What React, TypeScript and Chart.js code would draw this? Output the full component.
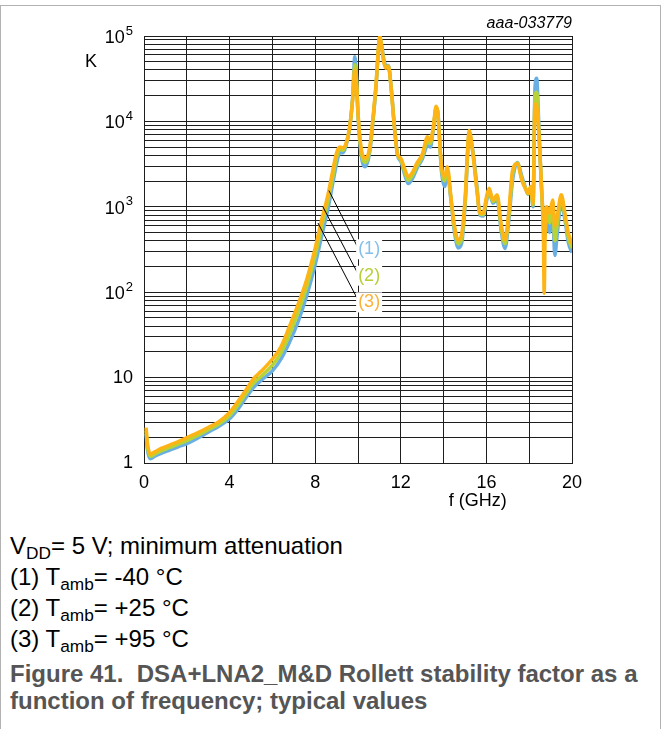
import React, { useEffect, useRef } from 'react';
import { Chart, registerables } from 'chart.js';

Chart.register(...registerables);

// ---- data (frequency in GHz, Rollett stability factor K) ----
const freqGHz = [
  0.1, 0.15, 0.3, 0.5, 0.8, 1.2, 1.6, 2.0, 2.5, 3.0, 3.5, 4.0, 4.4, 4.8, 5.1, 5.5, 6.0, 6.4, 6.8, 7.2,
  7.6, 8.0, 8.3, 8.6, 8.8, 9.0, 9.15, 9.3, 9.45, 9.6, 9.75, 9.85, 9.92, 10.0, 10.15, 10.35, 10.55, 10.7, 10.85, 10.95,
  11.02, 11.1, 11.2, 11.3, 11.42, 11.55, 11.7, 11.85, 12.0, 12.2, 12.35, 12.55, 12.75, 13.0, 13.25, 13.38, 13.52, 13.65, 13.72, 13.9,
  14.05, 14.17, 14.35, 14.5, 14.68, 14.85, 15.0, 15.2, 15.38, 15.55, 15.7, 15.85, 16.0, 16.13, 16.3, 16.5, 16.7, 16.87, 17.05, 17.22,
  17.45, 17.65, 17.85, 17.95, 18.07, 18.18, 18.27, 18.35, 18.45, 18.57, 18.66, 18.7, 18.75, 18.82, 18.95, 19.1, 19.2, 19.3, 19.5, 19.67,
  19.83, 20.0,
];

// (1) Tamb = -40 °C
const kTm40 = [
  2.2, 1.5, 1.12, 1.2, 1.3, 1.42, 1.55, 1.68, 1.95, 2.3, 2.7, 3.3, 4.3, 6.0, 7.6, 9.4, 12, 16.5, 26, 45,
  90, 210, 450, 950, 1750, 3200, 4300, 4300, 5300, 8000, 19000, 57000, 38000, 12000, 4000, 2950, 4400, 10000, 27000, 65000,
  95000, 80000, 55000, 45000, 45000, 25000, 9000, 4000, 3400, 2300, 1870, 2150, 2800, 3600, 5200, 5000, 8000, 14000, 13500, 2600,
  1730, 2500, 1150, 520, 330, 380, 1000, 6800, 4300, 1800, 800, 780, 1150, 1500, 1100, 1200, 500, 325, 700, 2000,
  3300, 2300, 1600, 1400, 1650, 1000, 25000, 32000, 9000, 1700, 700, 560, 480, 700, 500, 700, 270, 450, 1100, 700,
  380, 290,
];

// (2) Tamb = +25 °C
const kT25 = [
  2.4, 1.65, 1.2, 1.27, 1.39, 1.52, 1.66, 1.83, 2.1, 2.45, 2.85, 3.6, 4.8, 6.7, 8.5, 10.5, 14, 19.5, 32, 58,
  115, 270, 580, 1200, 2100, 3800, 4700, 4600, 5500, 8200, 18500, 46000, 34000, 12300, 4400, 3300, 4700, 10500, 28000, 68000,
  98000, 78000, 52000, 43000, 44500, 24500, 8700, 4050, 3550, 2500, 2050, 2350, 3000, 3850, 5900, 5500, 8300, 14500, 13200, 2800,
  2000, 2700, 1200, 570, 370, 430, 1100, 7300, 4100, 1700, 820, 810, 1220, 1580, 1150, 1300, 550, 370, 800, 2350,
  3250, 2150, 1590, 1420, 1690, 1050, 20000, 22000, 8000, 1800, 600, 400, 520, 850, 650, 950, 400, 600, 1250, 770,
  430, 330,
];

// (3) Tamb = +95 °C
const kT95 = [
  2.6, 1.8, 1.27, 1.35, 1.48, 1.62, 1.78, 1.98, 2.25, 2.6, 3.05, 3.9, 5.3, 7.4, 9.6, 12, 16.5, 23, 40, 72,
  140, 330, 700, 1400, 2500, 4300, 5000, 4900, 5600, 8300, 18000, 40000, 30000, 12500, 4800, 3700, 5000, 11000, 29000, 70000,
  100000, 75000, 50000, 42000, 44000, 24000, 8500, 4100, 3700, 2700, 2250, 2550, 3250, 4100, 6600, 5900, 8700, 15000, 13000, 3000,
  2250, 2950, 1250, 620, 410, 490, 1200, 7800, 3900, 1600, 840, 840, 1300, 1650, 1200, 1380, 600, 410, 900, 2650,
  3200, 2050, 1580, 1440, 1730, 1100, 16000, 15000, 7200, 1900, 500, 97, 600, 1000, 840, 1200, 600, 760, 1380, 840,
  490, 370,
];

const seriesNames = ['(1)', '(2)', '(3)'];
const seriesColors = ['#6aafe3', '#b8d335', '#fdb414'];
const labelColors = ['#86c0ea', '#b5d03a', '#fbb23a'];

const xGridValues = [0, 2, 4, 6, 8, 10, 12, 14, 16, 18, 20];
const xTickLabels = [0, 4, 8, 12, 16, 20];
const yDecades = [1, 10, 100, 1000, 10000];
const yMantissas = [1, 2, 3, 4, 5, 6, 7, 8, 9];
const yLabelPowers = [0, 1, 2, 3, 4, 5];

// leader lines (data coordinates): from curve to label
const leaderFrom = [[8.64, 1550], [8.36, 1000], [8.13, 646]];
const leaderTo = [[10.0, 330], [10.0, 164], [10.0, 81]];
const labelAnchor = [[10.52, 318], [10.52, 156], [10.52, 76]];

const FONT = '"Liberation Sans", Arial, Helvetica, sans-serif';

const overlayPlugin = {
  id: 'overlay',
  afterDatasetsDraw(chart: any) {
    const ctx = chart.ctx as CanvasRenderingContext2D;
    const xs = chart.scales.x;
    const ys = chart.scales.y;
    ctx.save();
    ctx.strokeStyle = '#000';
    ctx.lineWidth = 1;
    leaderFrom.forEach((p, i) => {
      ctx.beginPath();
      ctx.moveTo(xs.getPixelForValue(p[0]), ys.getPixelForValue(p[1]));
      ctx.lineTo(xs.getPixelForValue(leaderTo[i][0]), ys.getPixelForValue(leaderTo[i][1]));
      ctx.stroke();
    });
    ctx.font = `18px ${FONT}`;
    ctx.textAlign = 'center';
    ctx.textBaseline = 'middle';
    labelAnchor.forEach((p, i) => {
      const x = xs.getPixelForValue(p[0]);
      const y = ys.getPixelForValue(p[1]);
      const w = ctx.measureText(seriesNames[i]).width;
      ctx.fillStyle = '#fff';
      ctx.fillRect(x - w / 2 - 2, y - 10, w + 4, 20);
      ctx.fillStyle = labelColors[i];
      ctx.fillText(seriesNames[i], x, y);
    });
    ctx.restore();
  },
  afterDraw(chart: any) {
    const ctx = chart.ctx as CanvasRenderingContext2D;
    const xs = chart.scales.x;
    const ys = chart.scales.y;
    const area = chart.chartArea;
    ctx.save();
    ctx.fillStyle = '#000';
    // x tick labels
    ctx.font = `18px ${FONT}`;
    ctx.textAlign = 'center';
    ctx.textBaseline = 'middle';
    xTickLabels.forEach((v) => {
      ctx.fillText(String(v), xs.getPixelForValue(v), area.bottom + 20);
    });
    ctx.fillText('f (GHz)', xs.getPixelForValue(15.6), area.bottom + 38);
    // y tick labels
    const rightEdge = area.left - 11;
    yLabelPowers.forEach((p) => {
      const y = ys.getPixelForValue(Math.pow(10, p));
      if (p === 0 || p === 1) {
        ctx.font = `18px ${FONT}`;
        ctx.textAlign = 'right';
        ctx.fillText(p === 0 ? '1' : '10', rightEdge, y);
      } else {
        ctx.font = `13px ${FONT}`;
        ctx.textAlign = 'right';
        const sup = String(p);
        const sw = ctx.measureText(sup).width;
        ctx.fillText(sup, rightEdge, y - 5);
        ctx.font = `18px ${FONT}`;
        ctx.fillText('10', rightEdge - sw - 1, y + 2);
      }
    });
    // axis title K
    ctx.font = `18px ${FONT}`;
    ctx.textAlign = 'left';
    ctx.fillText('K', 85, ys.getPixelForValue(Math.pow(10, 4.7)));
    // document id
    ctx.font = `italic 16px ${FONT}`;
    ctx.textAlign = 'right';
    ctx.fillText('aaa-033779', area.right, area.top - 12);
    ctx.restore();
  },
};

export default function App() {
  const canvasRef = useRef<HTMLCanvasElement | null>(null);

  useEffect(() => {
    if (!canvasRef.current) return;
    const mk = (vals: number[], i: number, order: number) => ({
      label: seriesNames[i],
      data: freqGHz.map((f, j) => ({ x: f, y: vals[j] })),
      borderColor: seriesColors[i],
      backgroundColor: seriesColors[i],
      borderWidth: 3.5,
      pointRadius: 0,
      cubicInterpolationMode: 'monotone' as const,
      order,
    });
    const chart = new Chart(canvasRef.current, {
      type: 'line',
      data: {
        datasets: [mk(kTm40, 0, 2), mk(kT25, 1, 1), mk(kT95, 2, 0)],
      },
      options: {
        animation: false,
        responsive: false,
        devicePixelRatio: 1,
        layout: { padding: { left: 144, top: 36, right: 90, bottom: 57 } },
        plugins: { legend: { display: false }, tooltip: { enabled: false } },
        scales: {
          x: {
            type: 'linear',
            min: 0,
            max: 20,
            afterBuildTicks: (s: any) => {
              s.ticks = xGridValues.map((v) => ({ value: v }));
            },
            afterFit: (s: any) => {
              s.height = 0;
            },
            ticks: { display: false },
            grid: { color: '#1e1e1e', lineWidth: 1, drawTicks: false },
            border: { display: true, color: '#1e1e1e', width: 1 },
          },
          y: {
            type: 'logarithmic',
            min: 1,
            max: 100000,
            afterBuildTicks: (s: any) => {
              const t: { value: number }[] = [];
              yDecades.forEach((d) => yMantissas.forEach((m) => t.push({ value: d * m })));
              t.push({ value: 100000 });
              s.ticks = t;
            },
            afterFit: (s: any) => {
              s.width = 0;
            },
            ticks: { display: false },
            grid: { color: '#1e1e1e', lineWidth: 1, drawTicks: false },
            border: { display: true, color: '#1e1e1e', width: 1 },
          },
        },
      },
      plugins: [overlayPlugin],
    });
    return () => chart.destroy();
  }, []);

  const line: React.CSSProperties = {
    position: 'absolute',
    left: 10,
    fontSize: 24,
    lineHeight: '28px',
    color: '#000',
    whiteSpace: 'nowrap',
  };
  const sub: React.CSSProperties = { fontSize: '0.72em', verticalAlign: '-0.28em', lineHeight: 0 };
  const bold: React.CSSProperties = {
    position: 'absolute',
    left: 10,
    fontSize: 24,
    lineHeight: '28px',
    fontWeight: 'bold',
    color: '#555',
    whiteSpace: 'nowrap',
  };

  return (
    <div
      style={{
        position: 'absolute',
        left: 0,
        top: 0,
        width: 662,
        height: 729,
        background: '#fff',
        overflow: 'hidden',
        fontFamily: FONT,
      }}
    >
      <div
        style={{
          position: 'absolute',
          left: 0,
          top: 5,
          width: 659,
          height: 760,
          border: '1px solid #b2b2b2',
        }}
      />
      <canvas
        ref={canvasRef}
        width={662}
        height={520}
        style={{ position: 'absolute', left: 0, top: 0, width: 662, height: 520 }}
      />
      <div style={{ ...line, top: 532 }}>
        V<sub style={sub}>DD</sub>= 5 V; minimum attenuation
      </div>
      <div style={{ ...line, top: 563 }}>
        (1) T<sub style={sub}>amb</sub>= -40 °C
      </div>
      <div style={{ ...line, top: 594 }}>
        (2) T<sub style={sub}>amb</sub>= +25 °C
      </div>
      <div style={{ ...line, top: 625 }}>
        (3) T<sub style={sub}>amb</sub>= +95 °C
      </div>
      <div style={{ ...bold, top: 660 }}>Figure 41.&nbsp; DSA+LNA2_M&amp;D Rollett stability factor as a</div>
      <div style={{ ...bold, top: 687 }}>function of frequency; typical values</div>
    </div>
  );
}
